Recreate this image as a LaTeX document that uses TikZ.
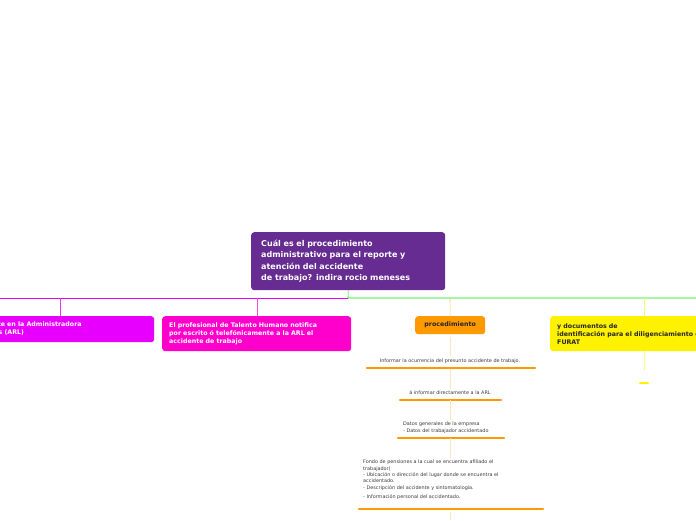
\documentclass[tikz,border=0pt]{standalone}
\usepackage{fontspec}
\setmainfont{DejaVu Sans}
\usetikzlibrary{positioning}
\definecolor{rootcolor}{RGB}{103,44,145}
\definecolor{arlcolor}{RGB}{232,0,255}
\definecolor{notifcolor}{RGB}{255,0,204}
\definecolor{proccolor}{RGB}{255,153,0}
\definecolor{doccolor}{RGB}{255,242,0}
\definecolor{linkgreen}{RGB}{0,230,0}
\definecolor{stepgray}{RGB}{60,60,60}

\begin{document}
\begin{tikzpicture}[
    x=1pt, y=-1pt,
    topic/.style={rectangle, rounded corners=3pt, anchor=north west, align=left, inner xsep=7pt, font=\fontsize{6.3}{8}\selectfont\bfseries},
    root/.style={topic, fill=rootcolor, text=white, text width=174pt, minimum height=58pt, font=\fontsize{8}{11.2}\selectfont\bfseries, inner xsep=10pt},
    item/.style={font=\fontsize{4.9}{6.3}\selectfont, text=stepgray, align=left, inner xsep=4pt, inner ysep=2pt},
    uline/.style={proccolor, line width=2.4pt, line cap=round},
    stem/.style={line width=0.6pt}
]
\useasboundingbox (0,0) rectangle (696,520);
\clip (0,0) rectangle (696,520);

% Root
\node[root] (root) at (251,232) {Cuál es el procedimiento\\administrativo para el reporte y\\atención del accidente\\de trabajo? indira rocio meneses};

% Main branches
\coordinate (hub) at (348,298);
\draw[stem, linkgreen] (root.south) -- (hub) -- (696,298);
\draw[stem, arlcolor] (hub) -- (0,298);

\node[topic, fill=arlcolor, text=white, text width=220pt, minimum height=26pt] (arl) at (-80,316) {Reporte del accidente en la Administradora\\de Riesgos Laborales (ARL)};
\node[topic, fill=notifcolor, text=white, text width=175pt, minimum height=35pt] (notif) at (162,316) {El profesional de Talento Humano notifica\\por escrito ó telefónicamente a la ARL el\\accidente de trabajo};
\node[topic, fill=proccolor, text=black!85, minimum width=70pt, minimum height=18pt, align=center] (proc) at (415,316) {procedimiento};
\node[topic, fill=doccolor, text=black!85, text width=200pt, minimum height=35pt] (docs) at (550,316) {y documentos de\\identificación para el diligenciamiento del\\FURAT};

\draw[stem, arlcolor!80] (60,298) -- (60,316);
\draw[stem, notifcolor!70] (257,298) -- (257,316);
\draw[stem, proccolor!50] (450,298) -- (proc.north);
\draw[stem, doccolor!60] (644,298) -- (644,316);

% Steps
\node[item] (s1) at (450,361) {Informar la ocurrencia del presunto accidente de trabajo.};
\node[item] (s2) at (450,393) {á informar directamente a la ARL};
\node[item, anchor=north west] (s3) at (399,420) {Datos generales de la empresa\\- Datos del trabajador accidentado};
\node[item, anchor=north west] (s4) at (359,458) {Fondo de pensiones a la cual se encuentra afiliado el\\trabajador)\\- Ubicación o dirección del lugar donde se encuentra el\\accidentado.\\- Descripción del accidente y sintomatología.\\[3pt]- Información personal del accidentado.};

\draw[uline] (367,368) -- (535,368);
\draw[uline] (400,400) -- (501,400);
\draw[uline] (398,438) -- (504,438);
\draw[uline] (359,509) -- (543,509);

\foreach \source/\dest in {proc/s1, s1/s2, s2/s3, s3/s4} {
    \draw[stem, proccolor!25] (\source.south -| proc.south) ++(0,3) -- (\dest.north -| proc.south);
}
\draw[stem, proccolor!25] (450,512) -- (450,520);

% FURAT detail
\coordinate (furat) at (644,383);
\draw[stem, doccolor!50] (docs.south -| furat) -- (644,370);
\draw[doccolor, line width=2.4pt, line cap=round] (640,383) -- (648,383);

\end{tikzpicture}
\end{document}
